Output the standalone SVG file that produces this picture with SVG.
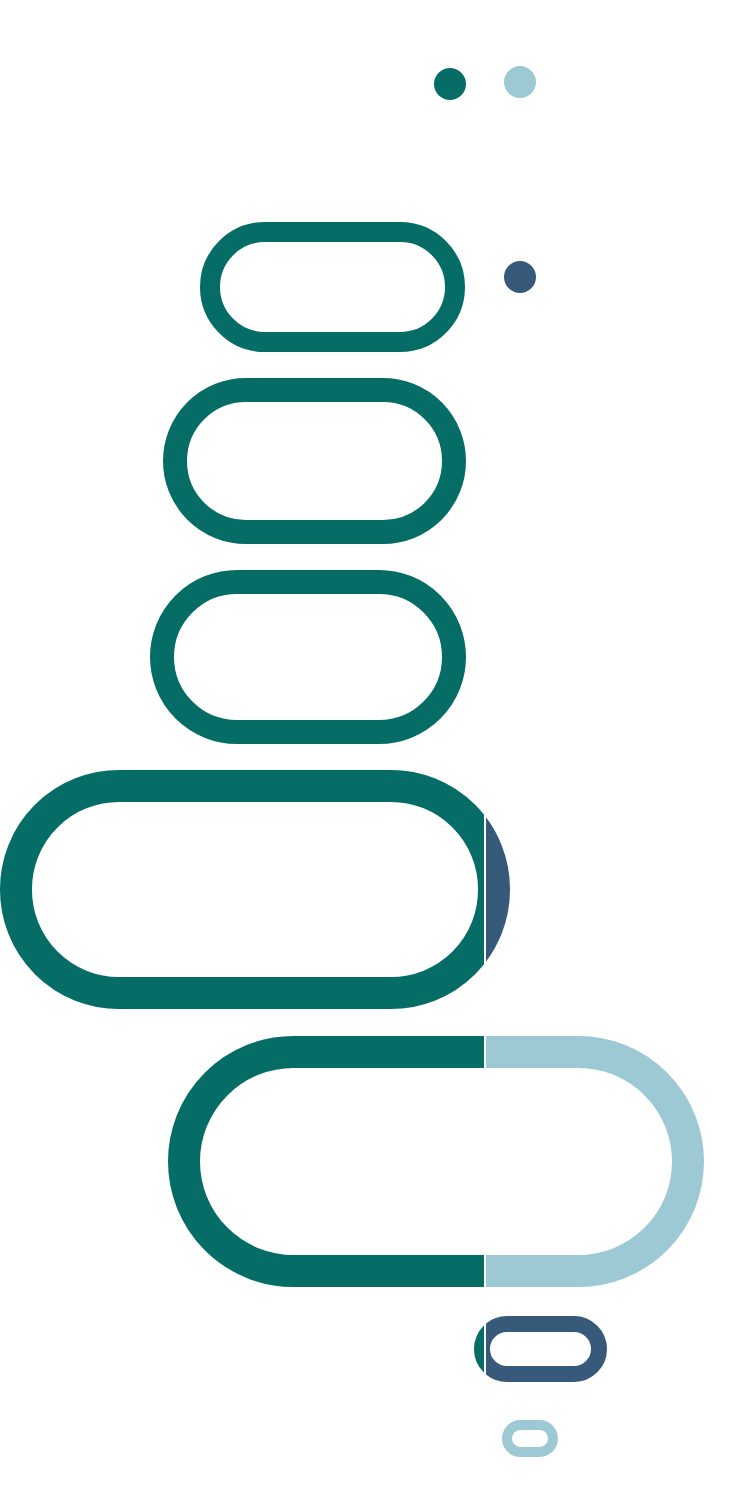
<svg xmlns="http://www.w3.org/2000/svg" width="744" height="1510" viewBox="0 0 744 1510">
<style>.s{fill:none}.t{stroke:#066c66}.l{stroke:#9dc9d4}.d{stroke:#375a7a}</style>
<defs>
<clipPath id="L"><rect x="0" y="0" width="484" height="1510"/></clipPath>
<clipPath id="R"><rect x="486" y="0" width="258" height="1510"/></clipPath>
</defs>
<rect width="744" height="1510" fill="#fff"/>
<g id="dot1"><circle cx="450" cy="84" r="16" fill="#066c66"/></g>
<g id="dot2"><circle cx="520" cy="82" r="16" fill="#9dc9d4"/></g>
<g id="dot3"><circle cx="520" cy="277" r="16" fill="#375a7a"/></g>
<g id="p1"><rect class="s t" x="210" y="232" width="245" height="110" rx="55" stroke-width="20"/></g>
<g id="p2"><rect class="s t" x="175" y="390" width="279" height="142" rx="71" stroke-width="24"/></g>
<g id="p3"><rect class="s t" x="162" y="582" width="292" height="150" rx="75" stroke-width="24"/></g>
<g id="p4">
<rect class="s t" x="16" y="786" width="478" height="207" rx="103" stroke-width="32" clip-path="url(#L)"/>
<rect class="s d" x="16" y="786" width="478" height="207" rx="103" stroke-width="32" clip-path="url(#R)"/>
</g>
<g id="p5">
<rect class="s t" x="184" y="1052" width="504" height="219" rx="109.5" stroke-width="32" clip-path="url(#L)"/>
<rect class="s l" x="184" y="1052" width="504" height="219" rx="109.5" stroke-width="32" clip-path="url(#R)"/>
</g>
<g id="p6">
<rect class="s t" x="482" y="1324" width="117" height="50" rx="25" stroke-width="16" clip-path="url(#L)"/>
<rect class="s d" x="482" y="1324" width="117" height="50" rx="25" stroke-width="16" clip-path="url(#R)"/>
</g>
<g id="p7"><rect class="s l" x="507" y="1425" width="46" height="27" rx="13.5" stroke-width="10"/></g>
<g id="connectors"/>
</svg>
